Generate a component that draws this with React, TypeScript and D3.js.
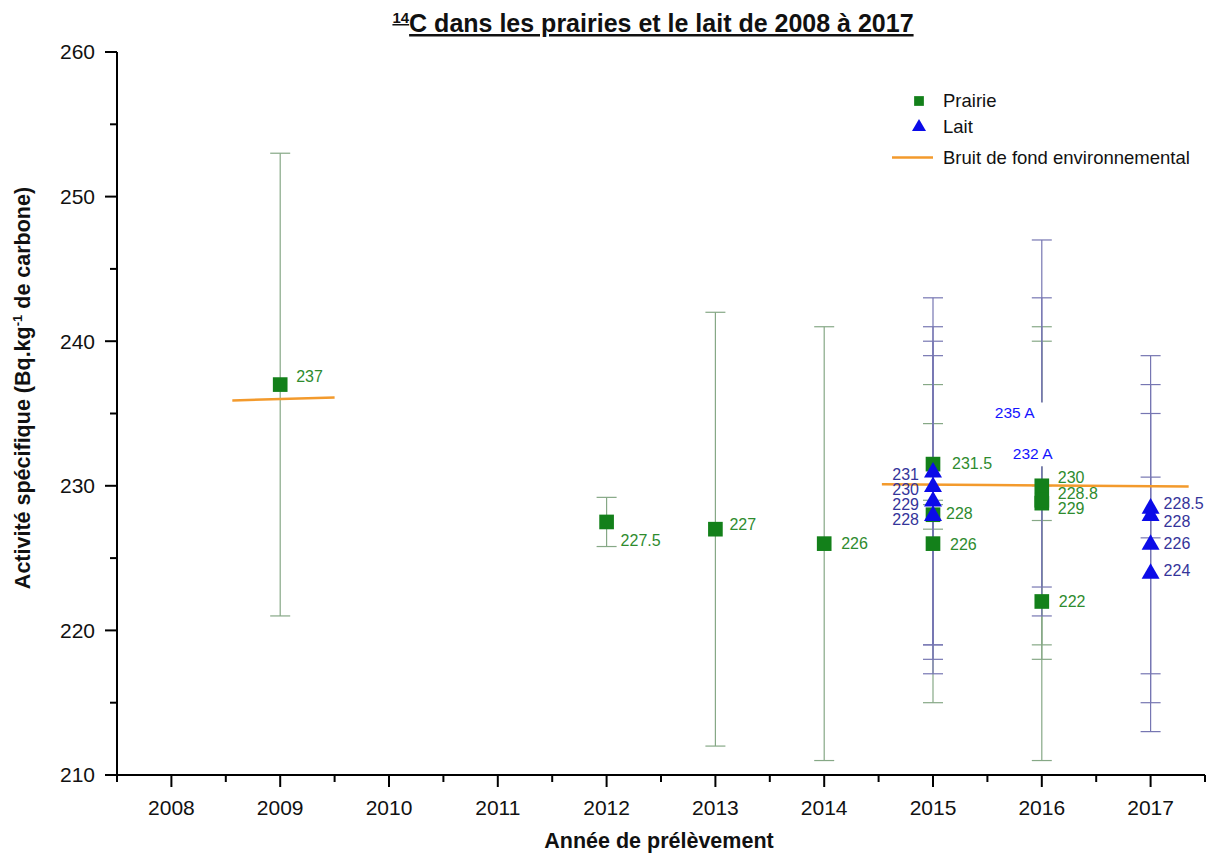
import React from "react";
import * as d3 from "d3";

// Prairie (grassland) samples
const prairieYears = [2009, 2012, 2013, 2014, 2015, 2015, 2015, 2016, 2016, 2016, 2016];
const prairieValues = [237, 227.5, 227, 226, 231.5, 228, 226, 230, 228.8, 229, 222];
const prairieErrors = [16, 1.7, 15, 15, 2.8, 1, 11, 11, 1.2, 11, 11];

// Lait (milk) samples; flag "A" marks annotated results drawn without a marker
const laitYears = [2015, 2015, 2015, 2015, 2016, 2016, 2017, 2017, 2017, 2017];
const laitValues = [231, 230, 229, 228, 235, 232, 228.5, 228, 226, 224];
const laitErrors = [12, 11, 11, 11, 12, 11, 2.1, 11, 11, 11];
const laitFlags = ["", "", "", "", "A", "A", "", "", "", ""];

// Environmental background level segments
const backgroundSegments: [number, number][][] = [
  [[2008.56, 235.9], [2009.5, 236.1]],
  [[2014.53, 230.1], [2015.5, 230.05], [2017.35, 229.95]],
];

const xTickYears = [2008, 2009, 2010, 2011, 2012, 2013, 2014, 2015, 2016, 2017];
const yTickValues = [210, 220, 230, 240, 250, 260];

// label placement (dx, dy of label centre from marker)
const prairieLabelNudge: [number, number][] = [
  [16, -8], [14, 18], [14, -5], [17, 0], [19, -1], [13, -1], [17, 1],
  [16, -8], [16, -10], [16, 8.5], [17, 0],
];
const laitLabelNudge: [number, number][] = [
  [-14, 2.6], [-14, 3.4], [-14, 4], [-14, 5], [-47, -1], [-29, -3.6],
  [13, -4.5], [13, 6.7], [13, -0.7], [13, -2.3],
];
// white boxes behind the annotated labels: [top, bottom] relative to label centre
const annotBox: [number, number][] = [[-10, 24], [-20, 13]];

const FONT = "'Liberation Sans', Arial, Helvetica, sans-serif";
const GREEN = "#13801a";
const GREEN_TXT = "#2e8b2e";
const GREEN_ERR = "#86a886";
const BLUE = "#0b0be8";
const NAVY_TXT = "#34349a";
const BLUE_ERR = "#7676b2";
const ORANGE = "#f39a2c";

export default function App() {
  const W = 1213;
  const H = 854;
  const x = d3.scaleLinear().domain([2007.5, 2017.5]).range([117, 1205]);
  const y = d3.scaleLinear().domain([210, 260]).range([775, 52]);

  const square = d3.symbol(d3.symbolSquare, 215)() as string;
  const triangle = d3.symbol(d3.symbolTriangle, 140)() as string;
  const legSquare = d3.symbol(d3.symbolSquare, 95)() as string;
  const legTriangle = d3.symbol(d3.symbolTriangle, 85)() as string;
  const line = d3
    .line<[number, number]>()
    .x((d) => x(d[0]))
    .y((d) => y(d[1]));

  const errBar = (cx: number, v: number, e: number, color: string, key: string) => (
    <g key={key} stroke={color} strokeWidth={1.2}>
      <line x1={cx} x2={cx} y1={y(v + e)} y2={y(v - e)} />
      <line x1={cx - 10} x2={cx + 10} y1={y(v + e)} y2={y(v + e)} />
      <line x1={cx - 10} x2={cx + 10} y1={y(v - e)} y2={y(v - e)} />
    </g>
  );

  const xMinor = d3.range(2007.5, 2017.51, 1);
  const yMinor = d3.range(215, 260, 10);

  return (
    <svg
      width={W}
      height={H}
      style={{ position: "absolute", left: 0, top: 0, background: "#fff" }}
      fontFamily={FONT}
    >
      <rect width={W} height={H} fill="#fff" />

      {/* title */}
      <text x={653} y={32} textAnchor="middle" fontSize={25} fontWeight="bold" textDecoration="underline" fill="#111">
        <tspan fontSize={15} dy={-9}>14</tspan>
        <tspan dy={9}>C dans les prairies et le lait de 2008 à 2017</tspan>
      </text>

      {/* error bars */}
      {prairieYears.map((yr, i) => errBar(x(yr), prairieValues[i], prairieErrors[i], GREEN_ERR, "pe" + i))}
      {laitYears.map((yr, i) => errBar(x(yr), laitValues[i], laitErrors[i], BLUE_ERR, "le" + i))}

      {/* background level */}
      {backgroundSegments.map((seg, i) => (
        <path key={"bg" + i} d={line(seg) as string} fill="none" stroke={ORANGE} strokeWidth={2.5} />
      ))}

      {/* markers */}
      {prairieYears.map((yr, i) => (
        <path key={"pm" + i} d={square} transform={`translate(${x(yr)},${y(prairieValues[i])})`} fill={GREEN} />
      ))}
      {laitYears.map((yr, i) =>
        laitFlags[i] ? null : (
          <path key={"lm" + i} d={triangle} transform={`translate(${x(yr)},${y(laitValues[i]) + 1})`} fill={BLUE} />
        )
      )}

      {/* value labels */}
      {prairieYears.map((yr, i) => (
        <text
          key={"pl" + i}
          x={x(yr) + prairieLabelNudge[i][0]}
          y={y(prairieValues[i]) + prairieLabelNudge[i][1]}
          dy="0.35em"
          fontSize={16}
          fill={GREEN_TXT}
        >
          {prairieValues[i]}
        </text>
      ))}
      {(() => {
        let k = 0;
        return laitYears.map((yr, i) => {
          const [dx, dyy] = laitLabelNudge[i];
          const lx = x(yr) + dx;
          const ly = y(laitValues[i]) + dyy;
          if (laitFlags[i]) {
            const [bt, bb] = annotBox[k++];
            return (
              <g key={"ll" + i}>
                <rect x={lx - 3} y={ly + bt} width={x(yr) + 13 - (lx - 3)} height={bb - bt} fill="#fff" />
                <text x={lx} y={ly} dy="0.35em" fontSize={15.5} fill="#1414ff">
                  {laitValues[i]} {laitFlags[i]}
                </text>
              </g>
            );
          }
          return (
            <text
              key={"ll" + i}
              x={lx}
              y={ly}
              dy="0.35em"
              fontSize={16}
              fill={NAVY_TXT}
              textAnchor={dx < 0 ? "end" : "start"}
            >
              {laitValues[i]}
            </text>
          );
        });
      })()}

      {/* axes */}
      <g stroke="#000" strokeWidth={2}>
        <line x1={x.range()[0]} x2={x.range()[1]} y1={y(210)} y2={y(210)} />
        <line x1={x.range()[0]} x2={x.range()[0]} y1={y(210)} y2={y(260)} />
        {xTickYears.map((t) => (
          <line key={"xt" + t} x1={x(t)} x2={x(t)} y1={y(210)} y2={y(210) + 12} />
        ))}
        {xMinor.map((t) => (
          <line key={"xm" + t} x1={x(t)} x2={x(t)} y1={y(210)} y2={y(210) + 7} />
        ))}
        {yTickValues.map((t) => (
          <line key={"yt" + t} x1={x.range()[0] - 12} x2={x.range()[0]} y1={y(t)} y2={y(t)} />
        ))}
        {yMinor.map((t) => (
          <line key={"ym" + t} x1={x.range()[0] - 7} x2={x.range()[0]} y1={y(t)} y2={y(t)} />
        ))}
      </g>
      {xTickYears.map((t) => (
        <text key={"xl" + t} x={x(t)} y={y(210) + 40} textAnchor="middle" fontSize={21} fill="#111">
          {t}
        </text>
      ))}
      {yTickValues.map((t) => (
        <text key={"yl" + t} x={95} y={y(t)} dy="0.35em" textAnchor="end" fontSize={21} fill="#111">
          {t}
        </text>
      ))}

      {/* axis titles */}
      <text x={659} y={848} textAnchor="middle" fontSize={21.5} fontWeight="bold" fill="#111">
        Année de prélèvement
      </text>
      <text
        transform={`translate(30,388) rotate(-90)`}
        textAnchor="middle"
        fontSize={21.5}
        fontWeight="bold"
        fill="#111"
      >
        Activité spécifique (Bq.kg
        <tspan fontSize={13} dy={-8}>-1</tspan>
        <tspan dy={8}> de carbone)</tspan>
      </text>

      {/* legend */}
      <g fontSize={18.5} fill="#111">
        <path d={legSquare} transform="translate(919,101)" fill={GREEN} />
        <text x={943} y={101} dy="0.35em">Prairie</text>
        <path d={legTriangle} transform="translate(919,127)" fill={BLUE} />
        <text x={943} y={127} dy="0.35em">Lait</text>
        <line x1={892} x2={933} y1={157.5} y2={157.5} stroke={ORANGE} strokeWidth={2.5} />
        <text x={943} y={157.5} dy="0.35em">Bruit de fond environnemental</text>
      </g>
    </svg>
  );
}
